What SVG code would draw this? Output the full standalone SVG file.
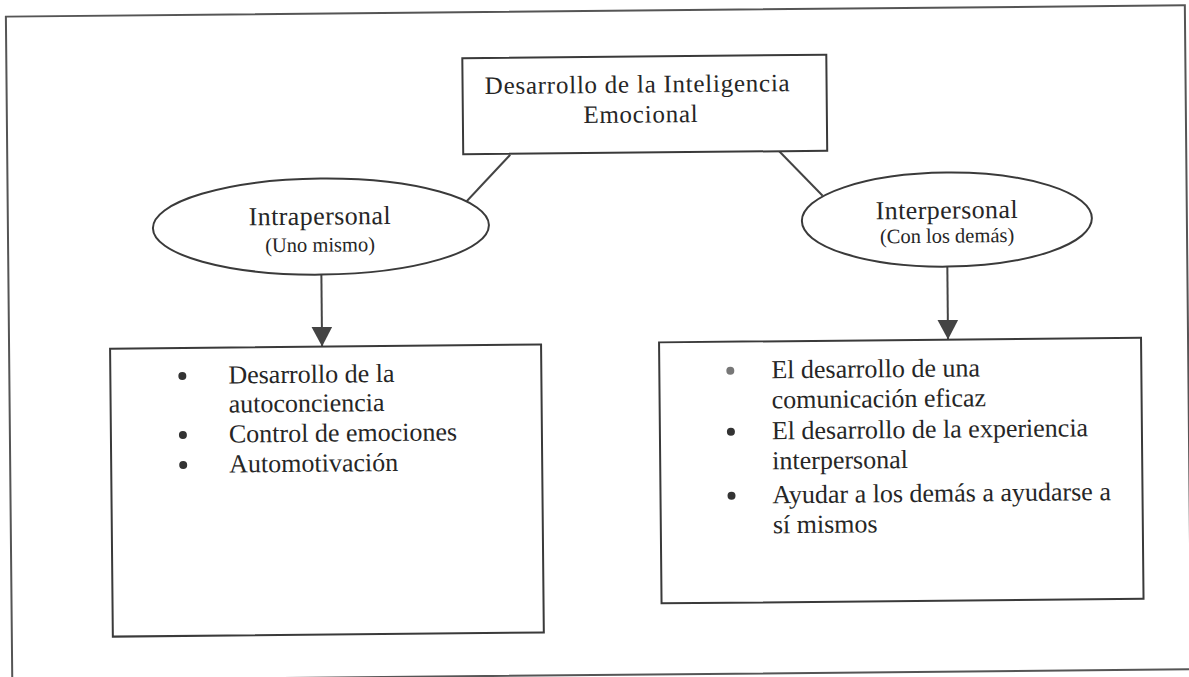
<svg xmlns="http://www.w3.org/2000/svg" width="1189" height="677" viewBox="0 0 1189 677">
<style>
.frame{fill:none;stroke:#555;stroke-width:2}
.box{fill:#fff;stroke:#3a3a3a;stroke-width:2}
.conn{fill:none;stroke:#444;stroke-width:2}
text{font-family:"Liberation Serif","Times New Roman",serif;fill:#262626}
.t{font-size:25px;letter-spacing:0.75px}
.e{font-size:26px;letter-spacing:0.4px}
.s{font-size:20.5px}
.b{font-size:26px}
.dot{fill:#333}
.dot2{fill:#777}
</style>
<defs>
<marker id="arr" viewBox="0 0 20 21" refX="20" refY="10.5" markerWidth="20" markerHeight="21" markerUnits="userSpaceOnUse" orient="auto">
<path d="M0,0 L20,10.5 L0,21 z" fill="#444"/>
</marker>
</defs>
<rect width="1189" height="677" fill="#fff"/>
<g transform="rotate(-0.55 594 338)">
<rect class="frame" x="9" y="11" width="1179" height="664"/>
<g id="connectors">
<line class="conn" x1="512" y1="154" x2="468" y2="200"/>
<line class="conn" x1="781" y1="153" x2="824" y2="198"/>
<line class="conn" x1="322" y1="272" x2="322" y2="344" marker-end="url(#arr)"/>
<line class="conn" x1="948" y1="270" x2="948" y2="343" marker-end="url(#arr)"/>
</g>
<g id="root">
<rect class="box" x="465" y="57" width="364" height="96"/>
<text class="t" x="640" y="93" text-anchor="middle">Desarrollo de la Inteligencia</text>
<text class="t" x="643" y="123" text-anchor="middle">Emocional</text>
</g>
<g id="intrapersonal">
<ellipse class="box" cx="322" cy="224" rx="168" ry="48"/>
<text class="e" x="321" y="222" text-anchor="middle">Intrapersonal</text>
<text class="s" x="321" y="249" text-anchor="middle">(Uno mismo)</text>
</g>
<g id="interpersonal">
<ellipse class="box" cx="948" cy="223" rx="145" ry="47"/>
<text class="e" x="948" y="222" text-anchor="middle">Interpersonal</text>
<text class="s" x="948" y="246" text-anchor="middle">(Con los demás)</text>
</g>
<g id="intra-list">
<rect class="box" x="110" y="344" width="431" height="288"/>
<circle class="dot" cx="182" cy="372" r="4"/>
<circle class="dot" cx="182" cy="431" r="4"/>
<circle class="dot" cx="182" cy="461" r="4"/>
<text class="b" x="228" y="380">Desarrollo de la</text>
<text class="b" x="228" y="409">autoconciencia</text>
<text class="b" x="228" y="439">Control de emociones</text>
<text class="b" x="228" y="469">Automotivación</text>
</g>
<g id="inter-list">
<rect class="box" x="659" y="343" width="482" height="261"/>
<circle class="dot2" cx="730" cy="372" r="4"/>
<circle class="dot" cx="730" cy="433" r="4"/>
<circle class="dot" cx="730" cy="497" r="4"/>
<text class="b" x="771" y="380">El desarrollo de una</text>
<text class="b" x="771" y="410">comunicación eficaz</text>
<text class="b" x="771" y="441">El desarrollo de la experiencia</text>
<text class="b" x="771" y="471">interpersonal</text>
<text class="b" x="771" y="505">Ayudar a los demás a ayudarse a</text>
<text class="b" x="771" y="535">sí mismos</text>
</g>
</g>
</svg>
